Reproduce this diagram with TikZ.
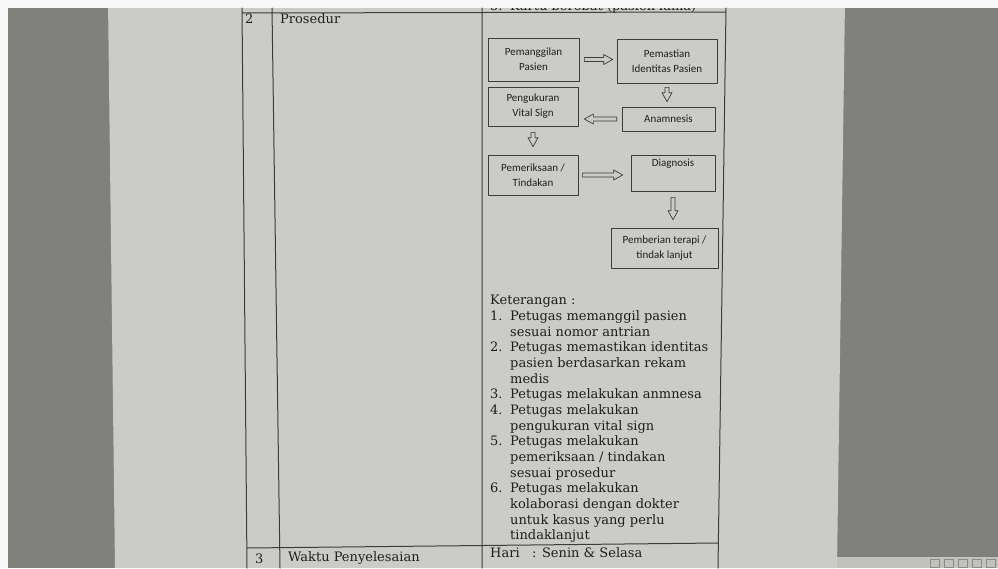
\documentclass[tikz,border=0pt]{standalone}
\usepackage{fontspec}
\setmainfont{DejaVu Serif}
\newfontfamily\boxfont{Carlito}
\usetikzlibrary{calc, positioning}
\definecolor{sidegray}{RGB}{128,128,124}
\definecolor{pagegray}{RGB}{203,203,199}
\definecolor{inkgray}{RGB}{30,30,30}
\definecolor{rulegray}{RGB}{60,60,60}
\definecolor{barwhite}{RGB}{248,248,248}
\definecolor{taskgray}{RGB}{194,194,188}
% hollow block arrow: #1 = gap at the start, #2 = gap at the end
\tikzset{blockarrow/.style 2 args={draw=rulegray, line width=0.7pt, fill=pagegray,
  to path={let \p1=(\tikztostart), \p2=(\tikztotarget),
    \n1={veclen(\x2-\x1,\y2-\y1)}, \n2={atan2(\y2-\y1,\x2-\x1)} in
    {[shift={(\p1)}, rotate=\n2]
     (#1,2pt) -- ({\n1-#2-9pt},2pt) -- ({\n1-#2-9pt},5pt) -- ({\n1-#2},0pt)
     -- ({\n1-#2-9pt},-5pt) -- ({\n1-#2-9pt},-2pt) -- (#1,-2pt) -- cycle}}}}
\newcommand{\ketno}[1]{\makebox[20pt][l]{#1}}
\newcommand{\ketin}{\hspace*{20pt}}

\begin{document}
\begin{tikzpicture}[x=1pt,y=-1pt,line cap=round,line join=round,
  flowbox/.style={draw=rulegray, line width=0.7pt, fill=pagegray, text=inkgray,
    font=\boxfont\fontsize{11}{15}\selectfont, align=center, inner sep=0pt},
  bodytext/.style={text=inkgray, font=\fontsize{13}{15.67}\selectfont, inner sep=0pt}]

\useasboundingbox (0,0) rectangle (998,568);

% screen, page and bars
\fill[sidegray] (0,0) rectangle (998,568);
\fill[pagegray] (108,0) -- (845,0) -- (837,568) -- (115,568) -- cycle;
\fill[taskgray] (837,557) rectangle (998,568);
\foreach \xx in {930,944,958,972,986}
  \draw[rulegray!60, line width=0.5pt] (\xx,559) rectangle ++(9,8);

% row cut off at the top
\node[bodytext, anchor=base west] (prevrow) at (490,10) {\ketno{5.}Kartu berobat (pasien lama)};
\fill[barwhite] (0,0) rectangle (998,8);
\fill[barwhite] (0,0) rectangle (8,568);

% table rules
\draw[rulegray, line width=1pt]
 (242,8) -- (247,568)
 (272,8) -- (280,568)
 (482,8) -- (482,568)
 (726,8) -- (718,568)
 (242,13) -- (726,12)
 (247,548) -- (718,543);

\node[bodytext, anchor=base west] (nodua) at (245,23) {2};
\node[bodytext, anchor=base west] (prosedur) at (280,23) {Prosedur};
\node[bodytext, anchor=base west] (notiga) at (255,563) {3};
\node[bodytext, anchor=base west] (waktu) at (288,561) {Waktu Penyelesaian};
\node[bodytext, anchor=base west] (hari) at (490,557) {\makebox[42pt][l]{Hari}: Senin \& Selasa};

% flow boxes
\node[flowbox, minimum width=91pt, minimum height=43pt] (pemanggilan) at (533.5,59.5) {Pemanggilan\\Pasien};
\node[flowbox, minimum width=100pt, minimum height=44pt] (pemastian) at (667,61) {Pemastian\\Identitas Pasien};
\node[flowbox, minimum width=93pt, minimum height=24pt] (anamnesis) at (668.5,119) {Anamnesis};
\node[flowbox, minimum width=90pt, minimum height=39pt] (pengukuran) at (533,106.5) {Pengukuran\\Vital Sign};
\node[flowbox, minimum width=90pt, minimum height=40pt] (pemeriksaan) at (533,175) {Pemeriksaan /\\Tindakan};
\node[flowbox, minimum width=84pt, minimum height=36pt, text depth=20pt] (diagnosis) at (673,173) {Diagnosis};
\node[flowbox, minimum width=107pt, minimum height=40pt] (pemberian) at (664.5,248) {Pemberian terapi /\\tindak lanjut};

% arrows
\draw[blockarrow={5pt}{4pt}] (pemanggilan.east) to (pemanggilan.east -| pemastian.west);
\draw[blockarrow={4pt}{5pt}] (pemastian.south) to (pemastian.south |- anamnesis.north);
\draw[blockarrow={5pt}{6pt}] (anamnesis.west) to (anamnesis.west -| pengukuran.east);
\draw[blockarrow={6pt}{8pt}] (pengukuran.south) to (pemeriksaan.north);
\draw[blockarrow={4pt}{8pt}] (pemeriksaan.east) to (pemeriksaan.east -| diagnosis.west);
\draw[blockarrow={6pt}{8pt}] (diagnosis.south) to (diagnosis.south |- pemberian.north);

% notes
\node[bodytext, anchor=north west, align=left] (keterangan) at (490,295) {Keterangan :\\
\ketno{1.}Petugas memanggil pasien\\
\ketin sesuai nomor antrian\\
\ketno{2.}Petugas memastikan identitas\\
\ketin pasien berdasarkan rekam\\
\ketin medis\\
\ketno{3.}Petugas melakukan anmnesa\\
\ketno{4.}Petugas melakukan\\
\ketin pengukuran vital sign\\
\ketno{5.}Petugas melakukan\\
\ketin pemeriksaan / tindakan\\
\ketin sesuai prosedur\\
\ketno{6.}Petugas melakukan\\
\ketin kolaborasi dengan dokter\\
\ketin untuk kasus yang perlu\\
\ketin tindaklanjut};

\end{tikzpicture}
\end{document}
